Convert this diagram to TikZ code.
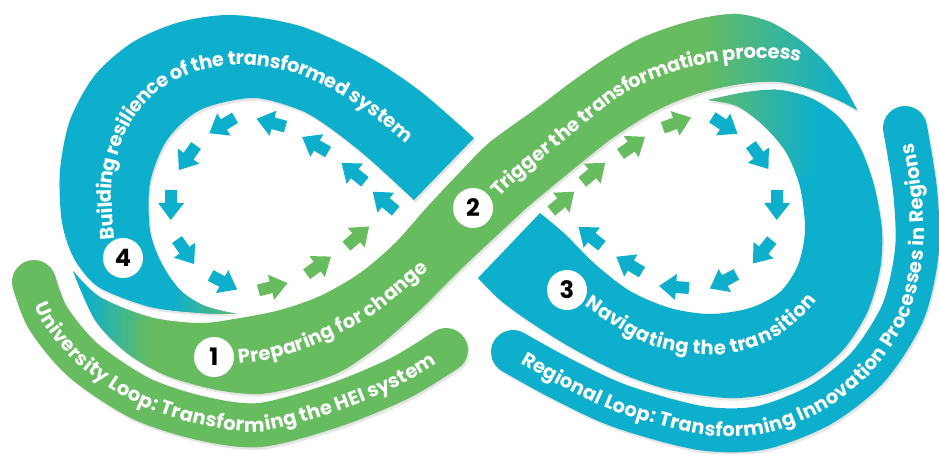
\documentclass[tikz,border=0pt]{standalone}
\usepackage{fontspec}
\setmainfont{Poppins}
\usetikzlibrary{decorations.text}
\definecolor{cblue}{RGB}{14,175,204}
\definecolor{cgreen}{RGB}{104,188,96}
\newcommand\bandfont{\fontsize{19.5}{19.5}\selectfont\bfseries}
\newcommand\flowarrow[4]{\fill[#4,shift={(#1,#2)},rotate=#3] (-14,-6) -- (-1,-6) -- (-1,-13) -- (16,0) -- (-1,13) -- (-1,6) -- (-14,6) -- cycle;}
\newcommand\bandApath{plot[smooth] coordinates {(474,138) (420,91) (367,56) (300,26) (233,15) (180,22) (133,42) (95,75) (70,120) (60,170) (61,215) (67,242) (78,265) (100,288) (150,307) (200,313) (237,314)} -- plot[smooth] coordinates {(237,314) (205,306) (180,290) (161,262) (150,230) (150,183) (167,140) (200,110) (253,98) (300,110) (330,128) (367,157) (414,200)} -- cycle}
\newcommand\bandBpath{plot[smooth] coordinates {(73,271) (100,297) (150,317) (200,323) (240,318) (280,310) (320,296) (360,273) (395,243) (428,206) (460,172) (490,142) (537,108) (570,83) (603,60) (637,40) (670,27) (703,18) (737,14) (770,22) (800,40) (825,62) (845,88) (857,110)} -- plot[smooth] coordinates {(857,110) (838,100) (810,89) (780,82) (747,83) (710,90) (680,100) (650,114) (610,140) (570,172) (530,205) (505,228) (478,253) (455,275) (420,310) (380,345) (340,372) (300,386) (260,394) (217,390) (167,376) (127,353) (95,320) (73,271)} -- cycle}
\newcommand\bandCpath{plot[smooth] coordinates {(708,100) (747,92) (780,90) (813,99) (840,118) (860,147) (874,185) (882,230) (880,270) (867,313) (843,350) (810,377) (767,394) (727,398) (670,390) (620,373) (570,347) (530,322) (500,300) (478,278)} -- plot[smooth] coordinates {(540,213) (565,234) (595,264) (630,291) (670,308) (710,314) (750,308) (780,292) (798,265) (805,230) (800,187) (786,152) (763,125) (737,106) (708,100)} -- cycle}
\newcommand\loopDpath{plot[smooth] coordinates {(34,282) (48,318) (83,360) (140,398) (200,418) (260,425) (335,405) (400,378) (446,350)}}
\newcommand\loopEpath{plot[smooth] coordinates {(513,352) (560,378) (620,406) (700,428) (760,428) (820,405) (868,367) (903,312) (917,250) (915,190) (905,128)}}
\tikzset{
  outerband/.style={line width=44pt, line cap=round},
  shadowed/.style={black, opacity=0.1, shift={(1.5,2.5)}},
  numc/.style={circle, fill=white, minimum size=40pt, inner sep=0pt, text=black, font=\fontsize{24}{24}\selectfont\bfseries},
  bandtext/.style 2 args={decorate, decoration={text along path, text color=white, raise=#1, text={|\bandfont|#2}}},
}
\begin{document}
\begin{tikzpicture}[x=1pt,y=-1pt]
\useasboundingbox (0,0) rectangle (939,453);
% soft shadows
\draw[outerband, shadowed] \loopDpath;
\draw[outerband, shadowed] \loopEpath;
\fill[shadowed] \bandApath;
\fill[shadowed] \bandBpath;
\fill[shadowed] \bandCpath;
% outer loops
\draw[outerband, cgreen] \loopDpath;
\draw[outerband, cblue] \loopEpath;
% band A
\fill[cblue] \bandApath;
\begin{scope}
  \clip \bandApath;
  \shade[left color=cblue, right color=cgreen] (172,270) rectangle (240,320);
\end{scope}
% band C
\fill[cblue] \bandCpath;
\begin{scope}
  \clip \bandCpath;
  \shade[left color=cgreen, right color=cblue] (700,80) rectangle (815,175);
\end{scope}
% band B
\fill[cgreen] \bandBpath;
\begin{scope}
  \clip \bandBpath;
  \fill[cblue] (40,200) rectangle (85,420);
  \shade[left color=cblue, right color=cgreen] (85,200) rectangle (150,420);
  \shade[left color=cgreen, right color=cblue] (700,0) rectangle (845,140);
  \fill[cblue] (845,0) rectangle (875,140);
\end{scope}
% texts
\path[bandtext={-6.5pt}{University Loop: Transforming the HEI system}, decoration={text align={left indent=22pt}}] plot[smooth] coordinates {(34,282) (48,318) (83,360) (140,398) (200,418) (260,425) (335,405) (400,378) (446,350) (490,320)};
\path[bandtext={-6.5pt}{Regional Loop: Transforming Innovation Processes in Regions}, decoration={text align={left indent=12pt}}] plot[smooth] coordinates {(513,352) (560,378) (620,406) (700,428) (760,428) (820,405) (868,367) (903,312) (917,250) (915,190) (905,128) (900,70)};
\path[bandtext={-7.5pt}{Building resilience of the transformed system}] plot[smooth] coordinates {(107,240) (104,190) (110,155) (125,118) (152,87) (192,65) (241,57) (297,66) (348,90) (400,128) (446,170) (480,205)};
\path[bandtext={-7pt}{Preparing for change}] plot[smooth] coordinates {(238,357) (270,352) (308,340) (365,312) (415,272) (452,234) (480,205)};
\path[bandtext={-7pt}{Trigger the transformation process}] plot[smooth] coordinates {(494,193) (510,177) (556,139) (620,88) (680,63) (741,52) (799,55) (840,80) (860,110)};
\path[bandtext={-7pt}{Navigating the transition}] plot[smooth] coordinates {(588,300) (651,338) (715,348) (770,333) (810,298) (835,250) (840,220)};
% numbers
\node[numc] (n1) at (214,357) {1};
\node[numc] (n2) at (473,208) {2};
\node[numc] (n3) at (567,290) {3};
\node[numc] (n4) at (123,258) {4};
% left loop arrows
\flowarrow{223}{125}{211}{cblue}
\flowarrow{272}{123}{165}{cblue}
\flowarrow{316}{145}{150}{cblue}
\flowarrow{354}{173}{141}{cblue}
\flowarrow{385}{202}{140}{cblue}
\flowarrow{188}{157}{235}{cblue}
\flowarrow{171}{204}{269}{cblue}
\flowarrow{185}{251}{305}{cblue}
\flowarrow{223}{282}{332}{cblue}
\flowarrow{272}{287}{14}{cgreen}
\flowarrow{318}{266}{36}{cgreen}
\flowarrow{357}{237}{41}{cgreen}
% right loop arrows
\flowarrow{562}{202}{40}{cgreen}
\flowarrow{593}{173}{40}{cgreen}
\flowarrow{632}{146}{35}{cgreen}
\flowarrow{676}{123}{20}{cgreen}
\flowarrow{724}{125}{327}{cblue}
\flowarrow{759}{156}{306}{cblue}
\flowarrow{777}{204}{269}{cblue}
\flowarrow{763}{251}{231}{cblue}
\flowarrow{724}{281}{208}{cblue}
\flowarrow{675}{287}{176}{cblue}
\flowarrow{630}{265}{149}{cblue}
\flowarrow{591}{237}{141}{cblue}
\end{tikzpicture}
\end{document}
